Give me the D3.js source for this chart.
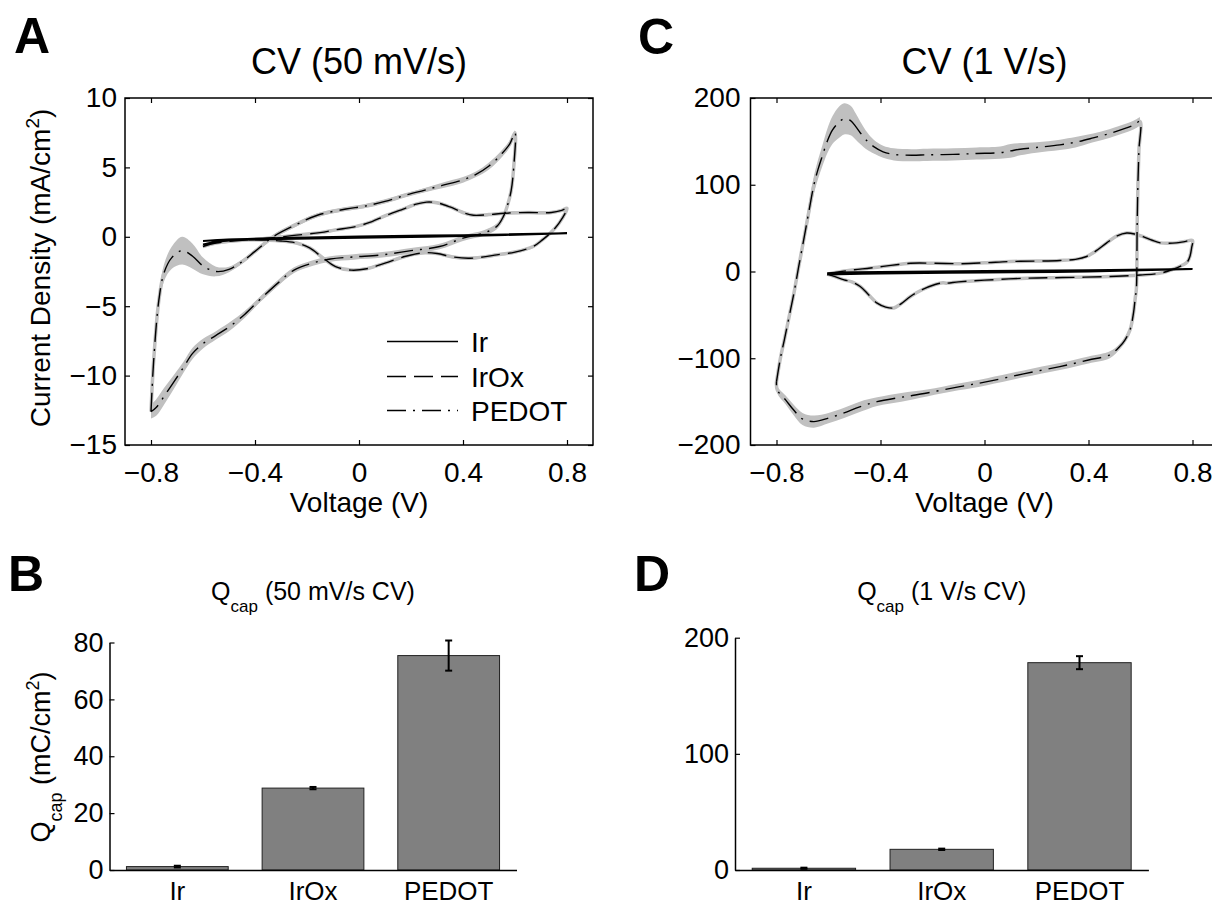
<!DOCTYPE html>
<html>
<head>
<meta charset="utf-8">
<script src="https://cdn.jsdelivr.net/npm/d3@7"></script>
<style>
  body { margin: 0; background: #fff; }
  text { font-family: "Liberation Sans", Arial, Helvetica, sans-serif; fill: #000; }
</style>
</head>
<body>
<svg id="fig" width="1212" height="905"></svg>
<script>
// ---- data ----
var materials = ["Ir", "IrOx", "PEDOT"]
var qcapSlow = [1.2, 28.8, 75.4]
var qcapSlowErr = [0.3, 0.4, 5.3]
var qcapFast = [1.5, 17.8, 178.5]
var qcapFastErr = [0.5, 0.6, 5.6]

var voltTicks = [-0.8, -0.4, 0, 0.4, 0.8]
var slowTicks = [-15, -10, -5, 0, 5, 10]
var fastTicks = [-200, -100, 0, 100, 200]
var barSlowTicks = [0, 20, 40, 60, 80]
var barFastTicks = [0, 100, 200]

// CV 50 mV/s, [V, I (mA/cm2), sd], anodic sweep then cathodic sweep
var irSlowUp = [[-0.6,-0.3,0],[-0.5,-0.2,0],[-0.3,-0.08,0],[0,0.02,0],[0.4,0.12,0],[0.8,0.25,0]]
var irSlowDown = [[0.8,0.25,0],[0.4,0.05,0],[0,-0.07,0],[-0.3,-0.15,0],[-0.5,-0.27,0],[-0.6,-0.55,0]]

var irOxSlowUp = [[-0.60,-0.7,0.1],[-0.55,-0.45,0.1],[-0.45,-0.25,0.1],[-0.35,-0.1,0.1],[-0.25,0.1,0.1],
  [-0.15,0.3,0.1],[-0.09,0.5,0.1],[-0.01,0.75,0.1],[0.05,1.1,0.1],[0.10,1.5,0.1],[0.17,2.0,0.1],
  [0.22,2.35,0.1],[0.26,2.5,0.1],[0.30,2.45,0.1],[0.35,2.15,0.1],[0.40,1.75,0.1],[0.44,1.55,0.1],
  [0.50,1.6,0.1],[0.56,1.7,0.1],[0.65,1.75,0.1],[0.74,1.75,0.1],[0.78,1.9,0.1],[0.80,2.05,0.1]]
var irOxSlowDown = [[0.80,2.05,0.1],[0.77,1.0,0.1],[0.735,0.25,0.1],[0.70,-0.3,0.1],[0.67,-0.7,0.1],
  [0.60,-1.1,0.1],[0.53,-1.3,0.1],[0.48,-1.45,0.1],[0.42,-1.55,0.1],[0.36,-1.45,0.1],[0.30,-1.2,0.1],
  [0.25,-1.15,0.1],[0.18,-1.4,0.1],[0.10,-1.9,0.1],[0.03,-2.3,0.1],[-0.03,-2.4,0.1],[-0.09,-2.15,0.1],
  [-0.14,-1.5,0.1],[-0.19,-0.8,0.1],[-0.24,-0.45,0.1],[-0.30,-0.3,0.1],[-0.40,-0.22,0.1],
  [-0.50,-0.25,0.1],[-0.56,-0.35,0.1],[-0.60,-0.7,0.1]]

var pedotSlowUp = [[-0.80,-12.6,0.5],[-0.79,-9.0,0.5],[-0.77,-4.6,0.5],[-0.75,-2.6,0.6],[-0.72,-1.5,0.8],
  [-0.68,-1.0,1.0],[-0.64,-1.4,0.9],[-0.60,-2.1,0.6],[-0.55,-2.5,0.35],[-0.50,-2.35,0.2],[-0.45,-1.8,0.15],
  [-0.40,-1.05,0.15],[-0.33,0.0,0.15],[-0.25,0.8,0.15],[-0.16,1.55,0.15],[-0.05,2.0,0.15],[0.02,2.2,0.15],
  [0.10,2.55,0.15],[0.18,3.0,0.15],[0.25,3.35,0.15],[0.32,3.7,0.2],[0.40,4.1,0.2],[0.45,4.5,0.2],
  [0.50,5.1,0.25],[0.55,6.0,0.25],[0.58,6.7,0.25],[0.60,7.5,0.2]]
var pedotSlowDown = [[0.60,7.5,0.2],[0.595,5.0,0.2],[0.585,3.3,0.2],[0.57,2.2,0.2],[0.555,1.45,0.2],
  [0.53,0.75,0.2],[0.48,0.27,0.2],[0.40,-0.1,0.2],[0.31,-0.7,0.2],[0.20,-1.0,0.2],[0.09,-1.3,0.2],
  [-0.02,-1.45,0.2],[-0.11,-1.6,0.2],[-0.18,-1.9,0.2],[-0.25,-2.4,0.2],[-0.31,-3.3,0.2],[-0.38,-4.5,0.2],
  [-0.44,-5.6,0.25],[-0.50,-6.5,0.3],[-0.55,-7.1,0.3],[-0.60,-7.7,0.35],[-0.64,-8.4,0.4],
  [-0.675,-9.4,0.4],[-0.71,-10.4,0.5],[-0.75,-11.5,0.6],[-0.78,-12.3,0.6],[-0.80,-12.6,0.5]]

// CV 1 V/s
var irFastUp = [[-0.605,-2,0],[-0.5,-1,0],[0,0.5,0],[0.4,1.5,0],[0.8,3.0,0]]
var irFastDown = [[0.8,3.0,0],[0.4,0,0],[0,-1.2,0],[-0.4,-2.2,0],[-0.605,-3.5,0]]

var irOxFastUp = [[-0.605,-3,1],[-0.55,0,1],[-0.50,2,1],[-0.438,4,1],[-0.36,7,1],[-0.285,9.5,1],
  [-0.19,9.5,1],[-0.093,9,1],[0.0,10,1],[0.099,11.5,1],[0.2,12,1],[0.29,12.7,1],[0.35,14,1],
  [0.393,17.3,1],[0.43,24,1],[0.47,33,1],[0.51,41,1],[0.547,44.3,1],[0.58,43,1],[0.612,40,1],
  [0.645,36,1],[0.676,33,1],[0.71,32.5,1],[0.738,33,1],[0.77,34.5,1],[0.8,35.8,1]]
var irOxFastDown = [[0.8,35.8,1],[0.797,28,1],[0.79,17.3,1],[0.78,11,1],[0.764,7.7,1],[0.72,2,1],
  [0.676,-1.9,1],[0.6,-4,1],[0.483,-5.8,1],[0.3,-7,1],[0.163,-7.7,1],[0.0,-10,1],[-0.1,-12,1],
  [-0.144,-13.4,1],[-0.16,-13,1],[-0.19,-15,1],[-0.24,-21,1],[-0.285,-28.8,1],[-0.32,-37,1],
  [-0.349,-42,1],[-0.38,-41,1],[-0.413,-36.5,1],[-0.445,-27,1],[-0.478,-17.3,1],[-0.51,-12,1],
  [-0.54,-9.6,1],[-0.575,-6,1],[-0.605,-3,1]]

var pedotFastUp = [[-0.80,-127,3],[-0.785,-100,4],[-0.77,-79,4],[-0.75,-50,5],[-0.733,-25,6],
  [-0.715,5,7],[-0.695,37,8],[-0.675,70,9],[-0.656,100,10],[-0.64,118,11],[-0.624,133,12],
  [-0.605,150,14],[-0.585,163,16],[-0.56,172,18],[-0.54,176,18],[-0.515,174,17],[-0.495,167,15],
  [-0.478,160,13],[-0.45,150,10],[-0.426,144,8],[-0.39,138,7],[-0.349,135,7],[-0.28,134,7],
  [-0.221,134.5,7],[-0.12,135,7],[-0.03,136,7],[0.06,137,7],[0.1,139,8],[0.137,141,7],[0.2,143,6],
  [0.29,146,6],[0.35,149,6],[0.418,154,5],[0.48,159,5],[0.546,165.5,5],[0.575,169,5],[0.598,173,5]]
var pedotFastDown = [[0.598,173,4],[0.594,140,3],[0.59,100,3],[0.587,50,3],[0.584,-21,3],
  [0.58,-30,3],[0.573,-48,3],[0.56,-67,3],[0.54,-79,3],[0.52,-86.5,3],[0.482,-96,4],[0.40,-102,4],
  [0.29,-109.6,4],[0.15,-118,4],[0.01,-127,4],[-0.10,-133,4],[-0.221,-140,4],[-0.32,-145,5],
  [-0.413,-150,5],[-0.48,-156,6],[-0.54,-163,6],[-0.60,-169,6],[-0.656,-173,7],[-0.70,-170,7],
  [-0.733,-160,6],[-0.765,-148,5],[-0.797,-136.5,4],[-0.80,-127,3]]

// ---- drawing ----
var svg = d3.select("#fig")
var gray = "#c0c0c0"
var dashes = { Ir: null, IrOx: "19,8", PEDOT: "19,7,2,7" }
var numFmt = d3.format("~g")

function panelLetter(t, x, y) {
  svg.append("text").attr("x", x).attr("y", y)
    .attr("font-size", 50).attr("font-weight", "bold").text(t)
}

function cvPanel(o) {
  var x = d3.scaleLinear().domain([-0.9, 0.9]).range([o.left, o.left + 468])
  var y = d3.scaleLinear().domain(o.yDomain).range([445, 98])
  var g = svg.append("g")

  var line = d3.line().x(function(d){ return x(d[0]) }).y(function(d){ return y(d[1]) })
    .curve(d3.curveCatmullRom.alpha(0.5))
  var band = d3.area().x(function(d){ return x(d[0]) })
    .y0(function(d){ return y(d[1] - d[2]) }).y1(function(d){ return y(d[1] + d[2]) })
    .curve(d3.curveCatmullRom.alpha(0.5))

  // grey sd bands underneath
  o.curves.forEach(function(c){
    if (c.name == "Ir") return
    g.append("path").attr("d", band(c.up)).attr("fill", gray)
    g.append("path").attr("d", band(c.down)).attr("fill", gray)
    g.append("path").attr("d", line(c.up.concat(c.down.slice(1))))
      .attr("fill", "none").attr("stroke", gray).attr("stroke-width", 3.5)
  })
  o.curves.forEach(function(c){
    g.append("path").attr("d", line(c.up.concat(c.down.slice(1))))
      .attr("fill", "none").attr("stroke", "#000")
      .attr("stroke-width", c.name == "Ir" ? 2 : 1.4)
      .attr("stroke-dasharray", dashes[c.name])
  })

  // box + ticks
  g.append("rect").attr("x", x.range()[0]).attr("y", 98)
    .attr("width", 468).attr("height", 347)
    .attr("fill", "none").attr("stroke", "#000").attr("stroke-width", 1.5)
  var ax = g.append("g").attr("transform", "translate(0,445)")
    .call(d3.axisBottom(x).tickValues(voltTicks).tickFormat(numFmt).tickSize(-5).tickSizeOuter(0).tickPadding(17))
  g.append("g").attr("transform", "translate(0,98)")
    .call(d3.axisTop(x).tickValues(voltTicks).tickFormat("").tickSize(-5).tickSizeOuter(0))
  var ay = g.append("g").attr("transform", "translate(" + o.left + ",0)")
    .call(d3.axisLeft(y).tickValues(o.yTicks).tickFormat(d3.format("d")).tickSize(-5).tickSizeOuter(0).tickPadding(o.yPad))
  g.append("g").attr("transform", "translate(" + (o.left + 468) + ",0)")
    .call(d3.axisRight(y).tickValues(o.yTicks).tickFormat("").tickSize(-5).tickSizeOuter(0))
  g.selectAll(".domain").remove()
  g.selectAll(".tick line").attr("stroke", "#000").attr("stroke-width", 1.2)
  g.selectAll(".tick text").attr("font-size", 28).attr("font-family", null).attr("fill", "#000")
  ax.selectAll(".tick text").attr("dy", "0.72em")

  var cx = o.left + 234
  svg.append("text").attr("x", cx).attr("y", 74).attr("text-anchor", "middle")
    .attr("font-size", 36).text(o.title)
  svg.append("text").attr("x", cx).attr("y", 512).attr("text-anchor", "middle")
    .attr("font-size", 28).text("Voltage (V)")
}

cvPanel({
  left: 125, yDomain: [-15, 10], yTicks: slowTicks, yPad: 8, title: "CV (50 mV/s)",
  curves: [
    { name: "Ir", up: irSlowUp, down: irSlowDown },
    { name: "IrOx", up: irOxSlowUp, down: irOxSlowDown },
    { name: "PEDOT", up: pedotSlowUp, down: pedotSlowDown }
  ]
})
cvPanel({
  left: 750.5, yDomain: [-200, 200], yTicks: fastTicks, yPad: 10, title: "CV (1 V/s)",
  curves: [
    { name: "Ir", up: irFastUp, down: irFastDown },
    { name: "IrOx", up: irOxFastUp, down: irOxFastDown },
    { name: "PEDOT", up: pedotFastUp, down: pedotFastDown }
  ]
})

// y label of A
var ylab = svg.append("text").attr("transform", "translate(50,268) rotate(-90)")
  .attr("text-anchor", "middle").attr("font-size", 28)
ylab.append("tspan").text("Current Density (mA/cm")
ylab.append("tspan").attr("font-size", 19).attr("dy", -11).text("2")
ylab.append("tspan").attr("dy", 11).text(")")

// legend of A
var leg = svg.append("g")
materials.forEach(function(m, i){
  var ly = [341.5, 376.5, 410.5][i]
  leg.append("line").attr("x1", 387).attr("x2", 458).attr("y1", ly).attr("y2", ly)
    .attr("stroke", "#000").attr("stroke-width", 1.4).attr("stroke-dasharray", dashes[m])
  leg.append("text").attr("x", 471).attr("y", ly + 10).attr("font-size", 28).text(m)
})

function barPanel(o) {
  var x = d3.scaleBand().domain(materials).range([o.left, o.right])
    .paddingInner(0.25).paddingOuter(0.125)
  var y = d3.scaleLinear().domain([0, o.yMax]).range([870, o.top])
  var g = svg.append("g")
  g.selectAll("rect.bar").data(o.values).enter().append("rect")
    .attr("class", "bar")
    .attr("x", function(d, i){ return x(materials[i]) })
    .attr("width", x.bandwidth())
    .attr("y", function(d){ return y(d) })
    .attr("height", function(d){ return 870 - y(d) })
    .attr("fill", "#808080").attr("stroke", "#222").attr("stroke-width", 1)
  o.values.forEach(function(v, i){
    var cx = x(materials[i]) + x.bandwidth() / 2
    var e = o.errs[i]
    g.append("line").attr("x1", cx).attr("x2", cx).attr("y1", y(v - e)).attr("y2", y(v + e))
      .attr("stroke", "#000").attr("stroke-width", 2)
    ;[v - e, v + e].forEach(function(t){
      g.append("line").attr("x1", cx - 3.5).attr("x2", cx + 3.5).attr("y1", y(t)).attr("y2", y(t))
        .attr("stroke", "#000").attr("stroke-width", 2)
    })
  })
  var ay = g.append("g").attr("transform", "translate(" + o.left + ",0)")
    .call(d3.axisLeft(y).tickValues(o.yTicks).tickSize(-5).tickSizeOuter(0).tickPadding(6))
  var ax = g.append("g").attr("transform", "translate(0,870)")
    .call(d3.axisBottom(x).tickSize(0).tickPadding(11))
  g.selectAll(".domain").attr("stroke", "#000").attr("stroke-width", 1.5)
  g.selectAll(".tick line").attr("stroke", "#000").attr("stroke-width", 1.2)
  g.selectAll(".tick text").attr("font-size", 27).attr("font-family", null).attr("fill", "#000")
  ax.selectAll(".tick text").attr("dy", "0.72em").attr("font-size", 26)

  var cx = (o.left + o.right) / 2
  var t = svg.append("text").attr("x", cx).attr("y", 600).attr("text-anchor", "middle").attr("font-size", 25)
  t.append("tspan").text("Q")
  t.append("tspan").attr("font-size", 17).attr("dy", 12).text("cap")
  t.append("tspan").attr("dy", -12).text(" " + o.title)
}

barPanel({ left: 109.5, right: 516.5, top: 642.5, yMax: 80, yTicks: barSlowTicks,
  values: qcapSlow, errs: qcapSlowErr, title: "(50 mV/s CV)" })
barPanel({ left: 735, right: 1148.4, top: 637.7, yMax: 200, yTicks: barFastTicks,
  values: qcapFast, errs: qcapFastErr, title: "(1 V/s CV)" })

// y label of B
var qlab = svg.append("text").attr("transform", "translate(50,757) rotate(-90)")
  .attr("text-anchor", "middle").attr("font-size", 27)
qlab.append("tspan").text("Q")
qlab.append("tspan").attr("font-size", 18).attr("dy", 12).text("cap")
qlab.append("tspan").attr("dy", -12).text(" (mC/cm")
qlab.append("tspan").attr("font-size", 18).attr("dy", -11).text("2")
qlab.append("tspan").attr("dy", 11).text(")")

panelLetter("A", 14, 53)
panelLetter("C", 638, 54)
panelLetter("B", 8, 591)
panelLetter("D", 634, 591)
</script>
</body>
</html>
